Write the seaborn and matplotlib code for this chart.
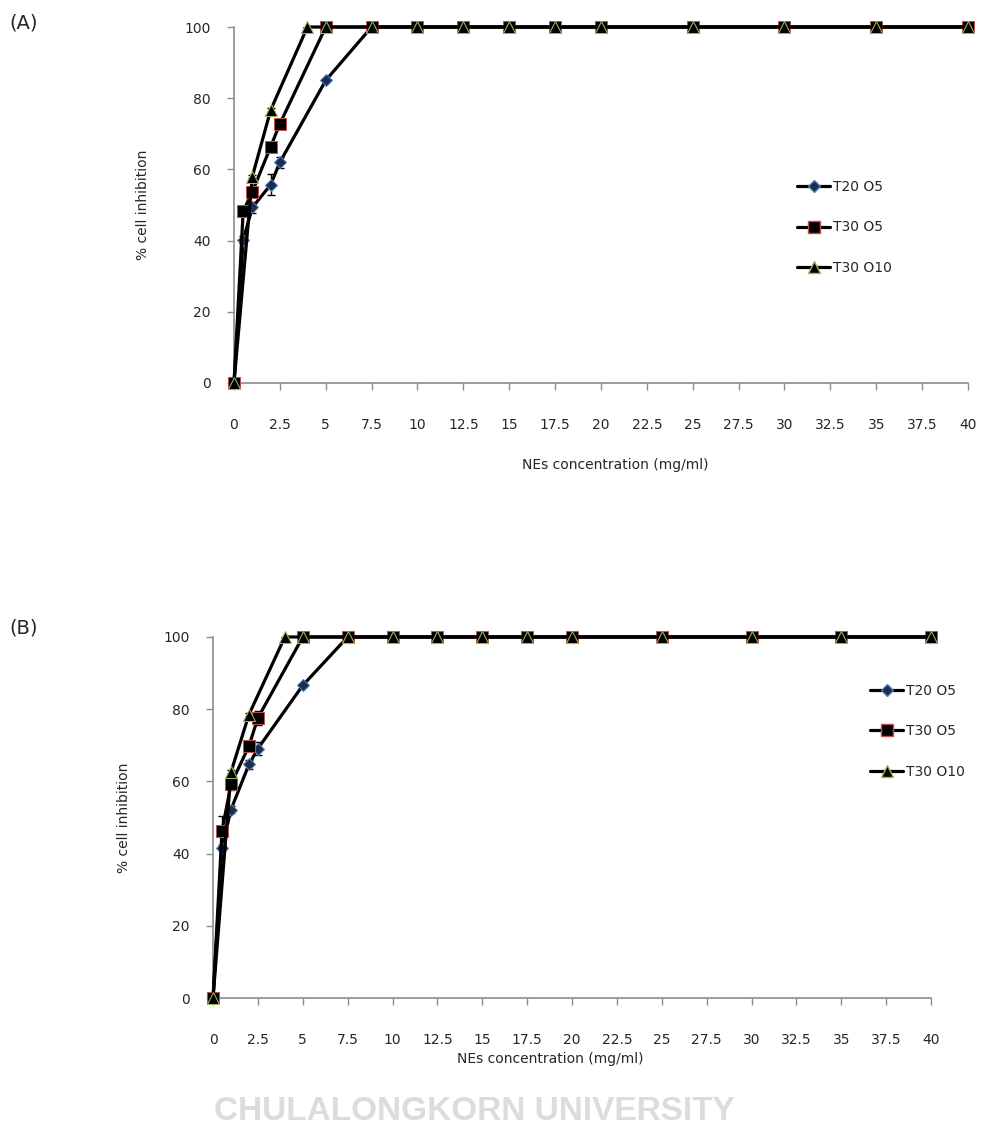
import numpy as np
import pandas as pd
import matplotlib
matplotlib.use('Agg')
import matplotlib.pyplot as plt
import seaborn as sns
from matplotlib.lines import Line2D
from matplotlib import font_manager

# concentrations (mg/ml)
conc_tail = [7.5, 10, 12.5, 15, 17.5, 20, 25, 30, 35, 40]

# Panel A
a_t20o5_x = [0, 0.5, 1, 2, 2.5, 5] + conc_tail
a_t20o5_y = [0, 40.2, 49.3, 55.7, 62.0, 85.0] + [100] * 10
a_t20o5_e = [0, 1.0, 1.5, 3.0, 1.5, 0.5] + [0] * 10
a_t30o5_x = [0, 0.5, 1, 2, 2.5, 5] + conc_tail
a_t30o5_y = [0, 48.2, 53.7, 66.4, 72.8, 100] + [100] * 10
a_t30o5_e = [0, 0.8, 1.0, 1.2, 1.0, 0] + [0] * 10
a_t30o10_x = [0, 1, 2, 4, 5] + conc_tail
a_t30o10_y = [0, 58.0, 76.7, 100, 100] + [100] * 10
a_t30o10_e = [0, 0.5, 0.5, 0, 0] + [0] * 10

# Panel B
b_t20o5_x = [0, 0.5, 1, 2, 2.5, 5] + conc_tail
b_t20o5_y = [0, 41.6, 52.2, 64.7, 69.1, 86.6] + [100] * 10
b_t20o5_e = [0, 0.6, 1.0, 1.2, 1.8, 0.5] + [0] * 10
b_t30o5_x = [0, 0.5, 1, 2, 2.5, 5] + conc_tail
b_t30o5_y = [0, 46.3, 59.2, 69.8, 77.6, 100] + [100] * 10
b_t30o5_e = [0, 4.0, 1.5, 1.0, 2.0, 0] + [0] * 10
b_t30o10_x = [0, 1, 2, 4, 5] + conc_tail
b_t30o10_y = [0, 62.6, 78.5, 100, 100] + [100] * 10
b_t30o10_e = [0, 0.5, 0.5, 0, 0] + [0] * 10

labels = ['T20 O5', 'T30 O5', 'T30 O10']
xticks = np.arange(0, 40.1, 2.5)
xticklabels = ['0', '2.5', '5', '7.5', '10', '12.5', '15', '17.5', '20',
               '22.5', '25', '27.5', '30', '32.5', '35', '37.5', '40']

styles = [
    dict(marker='D', markersize=6.5, markerfacecolor='#1f2d4d', markeredgecolor='#4f81bd'),
    dict(marker='s', markersize=8.5, markerfacecolor='black', markeredgecolor='#c0504d'),
    dict(marker='^', markersize=8, markerfacecolor='black', markeredgecolor='#9bbb59'),
]

sns.set_style('white')
plt.rcParams['font.family'] = ['DejaVu Sans']

fig = plt.figure(figsize=(9.84, 11.3), dpi=100)
axA = fig.add_axes([0.2378, 0.6611, 0.7459, 0.3150])
axB = fig.add_axes([0.2165, 0.1168, 0.7297, 0.3195])


def draw_panel(ax, series, leg_anchor, xlab_pos):
    for (x, y, e), lab, st in zip(series, labels, styles):
        df = pd.DataFrame({'conc': x, 'inh': y, 'err': e})
        ax.errorbar(df['conc'], df['inh'], yerr=df['err'], fmt='none',
                    ecolor='black', elinewidth=1, capsize=3, zorder=2)
        sns.lineplot(data=df, x='conc', y='inh', ax=ax, color='black',
                     linewidth=2.3, label=lab, clip_on=False, zorder=3, **st)
    ax.set_xlim(0, 40)
    ax.set_ylim(0, 100)
    ax.set_xticks(xticks)
    ax.set_xticklabels(xticklabels)
    ax.set_yticks([0, 20, 40, 60, 80, 100])
    for s in ['top', 'right']:
        ax.spines[s].set_visible(False)
    for s in ['left', 'bottom']:
        ax.spines[s].set_color('#8c8c8c')
        ax.spines[s].set_linewidth(1.2)
    ax.tick_params(axis='x', direction='out', length=5, width=1, color='#8c8c8c',
                   pad=20, labelsize=10, bottom=True)
    ax.tick_params(axis='y', direction='out', length=5, width=1, color='#8c8c8c',
                   pad=12, labelsize=10, left=True)
    ax.set_xlabel('NEs concentration (mg/ml)', fontsize=10)
    ax.set_ylabel('% cell inhibition', fontsize=10)
    ax.xaxis.set_label_coords(*xlab_pos)
    ax.yaxis.set_label_coords(-0.114, 0.5)
    handles = [Line2D([], [], color='black', linewidth=2.3, **st) for st in styles]
    ax.legend(handles, labels, loc='upper left', bbox_to_anchor=leg_anchor,
              frameon=False, fontsize=10, handlelength=2.4, handletextpad=0.2,
              labelspacing=1.9, borderpad=0, borderaxespad=0)


draw_panel(axA, [(a_t20o5_x, a_t20o5_y, a_t20o5_e),
                 (a_t30o5_x, a_t30o5_y, a_t30o5_e),
                 (a_t30o10_x, a_t30o10_y, a_t30o10_e)],
           (0.767, 0.57), (0.519, -0.21))
draw_panel(axB, [(b_t20o5_x, b_t20o5_y, b_t20o5_e),
                 (b_t30o5_x, b_t30o5_y, b_t30o5_e),
                 (b_t30o10_x, b_t30o10_y, b_t30o10_e)],
           (0.915, 0.87), (0.47, -0.15))

fig.text(0.010, 0.980, '(A)', fontsize=14, va='center', ha='left')
fig.text(0.010, 0.444, '(B)', fontsize=14, va='center', ha='left')

# faint watermark text at the bottom edge
names = {f.name for f in font_manager.fontManager.ttflist}
wm_font = 'Liberation Sans Narrow' if 'Liberation Sans Narrow' in names else 'Liberation Sans'
fig.text(0.482, 0.003, 'CHULALONGKORN UNIVERSITY', fontsize=24, fontweight='bold',
         color='#dcdcdc', ha='center', va='bottom', family=wm_font, zorder=0)

fig.savefig('out.png', dpi=100)
